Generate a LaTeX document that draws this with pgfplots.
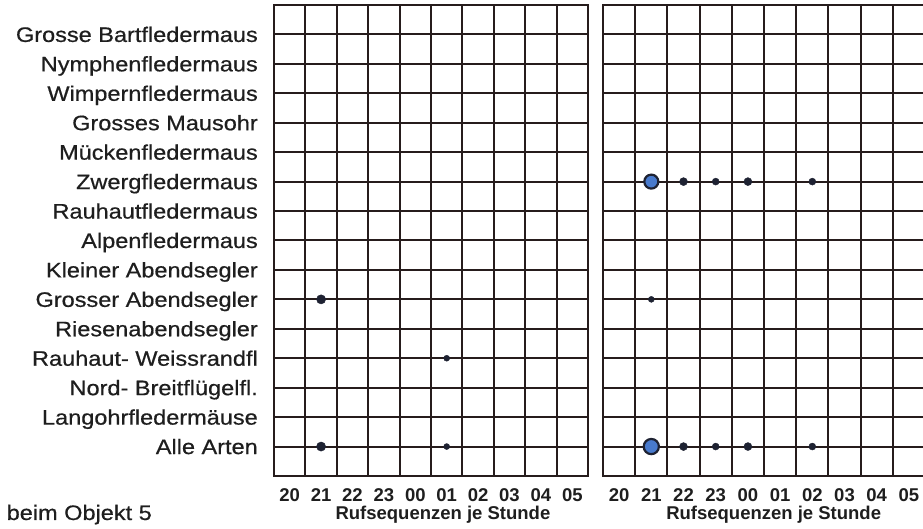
\documentclass[border=0pt]{standalone}
\usepackage{pgfplots}
\pgfplotsset{compat=1.18}
\usepackage{fontspec}
\setmainfont{Liberation Sans}
\newfontfamily\lblfont{Liberation Sans}[FakeStretch=1.12, FakeBold=0.6]
\definecolor{gridc}{RGB}{38,28,28}
\definecolor{txtc}{RGB}{30,30,30}
\definecolor{dotc}{RGB}{30,34,50}
\definecolor{bluec}{RGB}{72,122,205}
\begin{document}
\begin{tikzpicture}
\useasboundingbox (0pt,0pt) rectangle (923pt,529pt);
\pgfplotsset{
  panel/.style={
    scale only axis, height=471pt,
    xmin=-0.5, xmax=9.5, ymin=0, ymax=16,
    xtick={0,...,9},
    xticklabels={20,21,22,23,00,01,02,03,04,05},
    ytick={1,...,15},
    minor xtick={0.5,1.5,...,8.5},
    xminorgrids=true, ymajorgrids=true, xmajorgrids=false,
    major tick length=0pt, minor tick length=0pt,
    major grid style={draw=gridc, line width=2pt},
    minor grid style={draw=gridc, line width=2pt},
    axis line style={draw=gridc, line width=2.4pt},
    xticklabel style={font=\fontsize{18.5}{20}\selectfont\bfseries, text=txtc, anchor=base, inner sep=0pt, yshift=-26pt},
    xlabel={Rufsequenzen je Stunde},
    xlabel style={font=\fontsize{18.5}{20}\selectfont\bfseries, text=txtc, anchor=base, inner sep=0pt},
    clip=false,
  }
}
\begin{axis}[panel, width=314pt, at={(274pt,53pt)}, anchor=south west,
  yticklabels={Alle Arten, Langohrfledermäuse, Nord- Breitflügelfl., Rauhaut- Weissrandfl, Riesenabendsegler, Grosser Abendsegler, Kleiner Abendsegler, Alpenfledermaus, Rauhautfledermaus, Zwergfledermaus, Mückenfledermaus, Grosses Mausohr, Wimpernfledermaus, Nymphenfledermaus, Grosse Bartfledermaus},
  yticklabel style={font=\lblfont\fontsize{21}{23}\selectfont, text=txtc, anchor=base east, inner sep=0pt, xshift=-16pt, yshift=-7.5pt},
  xlabel style={at={(axis description cs:0.538,0)}, yshift=-44pt},
]
\addplot[only marks, mark=*, mark size=4.6pt, color=dotc] coordinates {(1,6) (1,1)};
\addplot[only marks, mark=*, mark size=3pt, color=dotc] coordinates {(5,4) (5,1)};
\end{axis}
\begin{axis}[panel, width=322pt, at={(603pt,53pt)}, anchor=south west,
  yticklabels={},
  xlabel style={at={(axis description cs:0.53,0)}, yshift=-44pt},
]
\addplot[only marks, mark=*, mark size=3pt, color=dotc] coordinates {(1,6)};
\addplot[only marks, mark=*, mark size=4pt, color=dotc] coordinates {(2,10) (4,10) (2,1) (4,1)};
\addplot[only marks, mark=*, mark size=3.5pt, color=dotc] coordinates {(3,10) (6,10) (3,1) (6,1)};
\addplot[only marks, mark=*, mark size=7pt, mark options={draw=dotc, fill=bluec, line width=2.2pt}] coordinates {(1,10)};
\addplot[only marks, mark=*, mark size=7.6pt, mark options={draw=dotc, fill=bluec, line width=2.2pt}] coordinates {(1,1)};
\end{axis}
\node[anchor=base east, font=\lblfont\fontsize{21}{23}\selectfont, text=txtc, inner sep=0pt] at (152pt,9pt) {beim Objekt 5};
\end{tikzpicture}
\end{document}
